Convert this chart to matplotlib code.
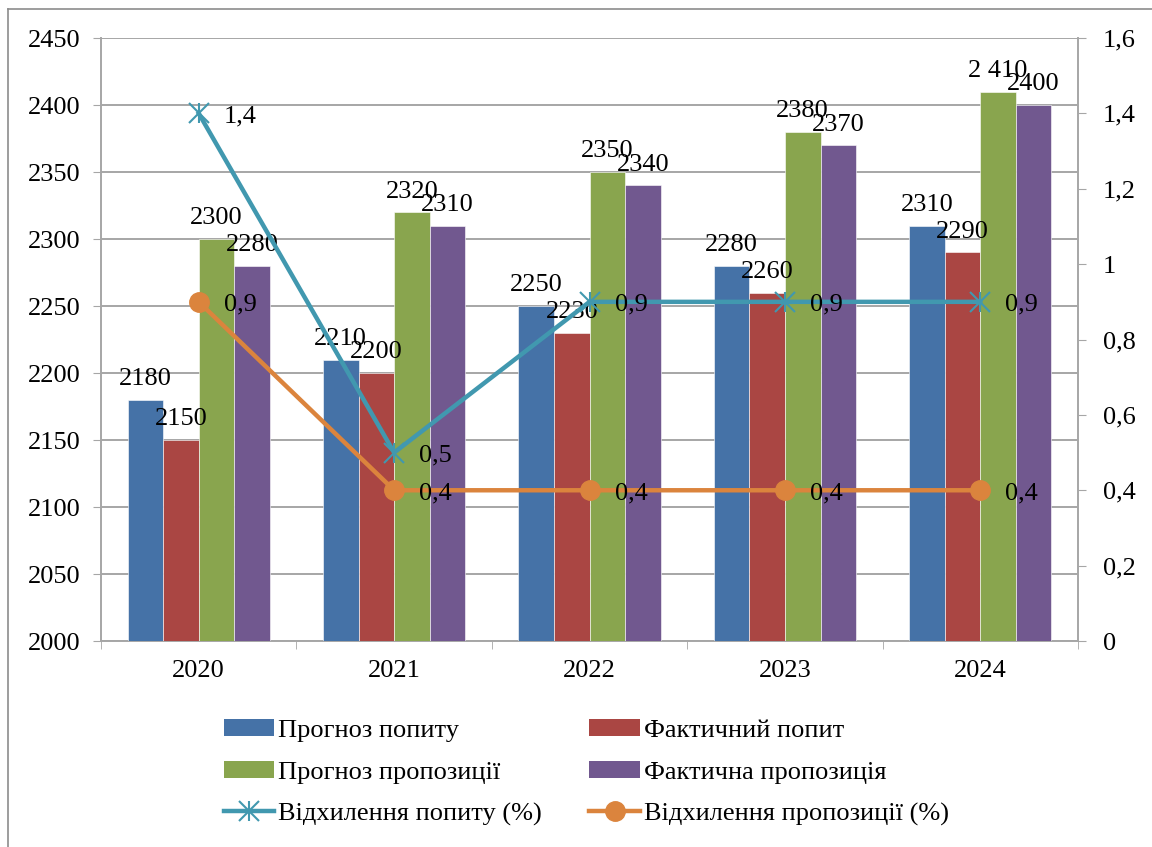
import matplotlib as mpl
mpl.use("Agg")
import matplotlib.pyplot as plt
import numpy as np
from matplotlib.lines import Line2D
from matplotlib.patches import Patch
from matplotlib.legend_handler import HandlerTuple

FS = 19

mpl.rcParams.update({
    "font.family": ["Liberation Serif", "DejaVu Serif"],
    "font.size": FS,
})

# ─── Data ───────────────────────────────────────────────────────────────────
years = ["2020", "2021", "2022", "2023", "2024"]
demand_forecast = [2180, 2210, 2250, 2280, 2310]
demand_actual = [2150, 2200, 2230, 2260, 2290]
supply_forecast = [2300, 2320, 2350, 2380, 2410]
supply_actual = [2280, 2310, 2340, 2370, 2400]
demand_dev = [1.4, 0.5, 0.9, 0.9, 0.9]
supply_dev = [0.9, 0.4, 0.4, 0.4, 0.4]

bar_series = [
    ("Прогноз попиту", demand_forecast, "#4572A7"),
    ("Фактичний попит", demand_actual, "#AA4643"),
    ("Прогноз пропозиції", supply_forecast, "#89A54E"),
    ("Фактична пропозиція", supply_actual, "#71588F"),
]
COL_DEM_LINE = "#4198AF"
COL_SUP_LINE = "#DB843D"
GRID = "#a6a6a6"


def fmt_num(v):
    s = f"{v:.1f}".rstrip("0").rstrip(".")
    return s.replace(".", ",")


fig = plt.figure(figsize=(11.52, 8.47), dpi=100)
ax = fig.add_axes([0.0877, 0.2432, 0.8481, 0.7119])
ax2 = ax.twinx()

x = np.arange(len(years))
bw = 0.182
offsets = [-1.5 * bw, -0.5 * bw, 0.5 * bw, 1.5 * bw]

bar_handles = []
for (name, vals, col), off in zip(bar_series, offsets):
    bars = ax.bar(x + off, np.array(vals) - 2000, bottom=2000, width=bw,
                  color=col, edgecolor="white", linewidth=0.4, zorder=3)
    for b, v in zip(bars, vals):
        label = "2 410" if v == 2410 else str(v)
        ax.annotate(label, (b.get_x() + b.get_width() / 2, v),
                    xytext=(0, 7), textcoords="offset points",
                    ha="center", va="bottom", fontsize=FS, zorder=4)
    bar_handles.append(Patch(facecolor=col, label=name))

ax.set_ylim(2000, 2450)
ax.set_yticks(np.arange(2000, 2451, 50))
ax.set_xlim(-0.5, len(years) - 0.5)
ax.set_xticks(x)
ax.set_xticklabels(years)
ax.set_xticks(np.arange(-0.5, len(years), 1), minor=True)
ax.tick_params(axis="x", which="major", length=0, pad=14)
ax.tick_params(axis="x", which="minor", length=6, color=GRID, direction="out")
ax.tick_params(axis="y", length=6, color=GRID, direction="out", pad=9)
ax.yaxis.grid(True, color=GRID, linewidth=1.4, zorder=0)
ax.set_axisbelow(True)
for side in ("top", "right"):
    ax.spines[side].set_visible(False)
for side in ("left", "bottom"):
    ax.spines[side].set_color(GRID)
    ax.spines[side].set_linewidth(1.4)

# Deviation lines on the secondary axis
ln_dem, = ax2.plot(x, demand_dev, color=COL_DEM_LINE, lw=3.2, marker="x",
                   markersize=14, markeredgewidth=1.5, zorder=5)
vbar, = ax2.plot(x, demand_dev, ls="none", color=COL_DEM_LINE, marker="|",
                 markersize=15, markeredgewidth=1.5, zorder=5)
ln_sup, = ax2.plot(x, supply_dev, color=COL_SUP_LINE, lw=3.2, marker="o",
                   markersize=14, zorder=5)
for xs, v in zip(x, demand_dev):
    ax2.annotate(fmt_num(v), (xs, v), xytext=(18, -2), textcoords="offset points",
                 ha="left", va="center", fontsize=FS, zorder=6)
for xs, v in zip(x, supply_dev):
    ax2.annotate(fmt_num(v), (xs, v), xytext=(18, -2), textcoords="offset points",
                 ha="left", va="center", fontsize=FS, zorder=6)

ax2.set_ylim(0, 1.6)
ax2.set_yticks(np.arange(0, 1.61, 0.2))
ax2.set_yticklabels([fmt_num(v) for v in np.arange(0, 1.61, 0.2)])
ax2.tick_params(axis="y", length=6, color=GRID, direction="out", pad=12)
for side in ("top", "left", "bottom"):
    ax2.spines[side].set_visible(False)
ax2.spines["right"].set_color(GRID)
ax2.spines["right"].set_linewidth(1.4)

# Legend: two columns, filled column-wise
handles = [bar_handles[0], bar_handles[2], (ln_dem, vbar),
           bar_handles[1], bar_handles[3], ln_sup]
labels = ["Прогноз попиту", "Прогноз пропозиції", "Відхилення попиту (%)",
          "Фактичний попит", "Фактична пропозиція", "Відхилення пропозиції (%)"]
fig.legend(handles, labels, loc="center", bbox_to_anchor=(0.509, 0.088),
           ncol=2, frameon=False, fontsize=FS, handlelength=1.9,
           handleheight=0.6, handletextpad=0.15, columnspacing=1.8,
           labelspacing=0.72, handler_map={tuple: HandlerTuple(ndivide=1, pad=0)})

# Outer chart-area border
fig.add_artist(Line2D([0.007, 0.007], [0.0, 0.989], color="#8c8c8c", lw=1.2))
fig.add_artist(Line2D([0.007, 1.0], [0.989, 0.989], color="#8c8c8c", lw=1.2))

fig.savefig("out.png", dpi=100)
